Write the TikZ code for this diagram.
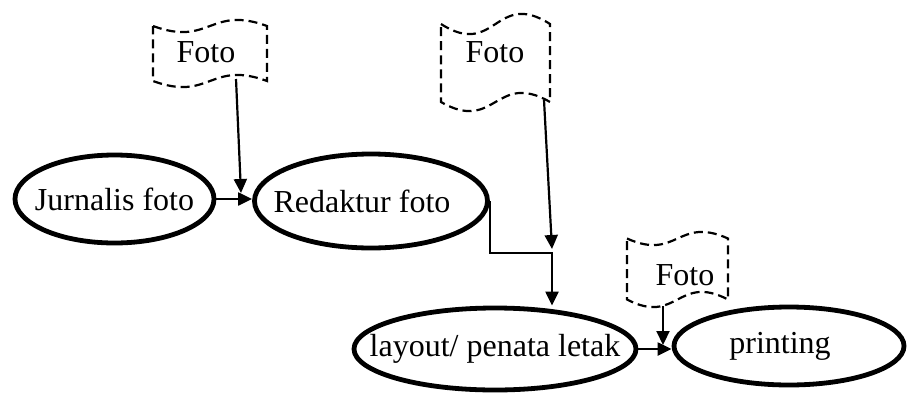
\documentclass[tikz,border=0pt]{standalone}
\usepackage{fontspec}
\setmainfont{Liberation Serif}
\usetikzlibrary{shapes.geometric,arrows.meta}
\newcommand{\flagshape}[6]{% L R topy topa boty bota
  \pgfmathsetmacro{\flagmid}{(#1+#2)/2}
  \draw[flagline] (#1,#3) .. controls (\flagmid,#3+3.5*#4) and (\flagmid,#3-3.5*#4) .. (#2,#3)
     -- (#2,#5) .. controls (\flagmid,#5-3.5*#6) and (\flagmid,#5+3.5*#6) .. (#1,#5) -- cycle;
}
\newcommand{\ctext}[1]{\makebox[0pt][c]{#1}}
\begin{document}
\begin{tikzpicture}[x=1pt,y=-1pt,
  stage/.style={ellipse, draw, line width=4.8pt, inner sep=0pt, font=\fontsize{32}{36}\selectfont},
  flagline/.style={line width=2.2pt, dash pattern=on 9pt off 5pt},
  flagtext/.style={font=\fontsize{32}{36}\selectfont, inner sep=0pt},
  conn/.style={line width=2.2pt},
  arr/.style={conn, -{Triangle[length=14pt,width=13pt]}}]
\useasboundingbox (0,0) rectangle (907,394);
% ellipses
\node[stage, minimum width=199pt, minimum height=88pt] (jur) at (114.5,199) {\ctext{Jurnalis foto}};
\node[stage, minimum width=233pt, minimum height=94pt] (red) at (371,201) {\ctext{Redaktur foto\hspace*{18pt}}};
\node[stage, minimum width=282pt, minimum height=82pt] (lay) at (495,349) {\ctext{layout/ penata letak}};
\node[stage, minimum width=230pt, minimum height=78pt] (prt) at (789,346) {\ctext{printing\hspace*{18pt}}};
% flags
\flagshape{153}{267}{26}{6}{81}{6}
\node[flagtext] (f1) at (206,52) {Foto};
\flagshape{441}{550}{24}{10}{102}{9}
\node[flagtext] (f2) at (495,52) {Foto};
\flagshape{627}{728}{238.5}{6.5}{299.5}{7.5}
\node[flagtext] (f3) at (685,275) {Foto};
% connector points
\coordinate (f1b) at (236,79);
\coordinate (f1e) at (241,193);
\coordinate (f2b) at (544,100);
\coordinate (f2e) at (552,249);
\coordinate (f3b) at (663,306);
\coordinate (f3e) at (663,345);
\coordinate (c1) at (552,253);
% connectors
\draw[arr] (jur.east) -- (jur.east -| red.west);
\draw[arr] (f1b) -- (f1e);
\draw[arr] (red.east) -- (red.east |- c1) -- (c1) -- (c1 |- lay.north);
\draw[arr] (f2b) -- (f2e);
\draw[arr] (lay.east) -- (lay.east -| prt.west);
\draw[arr] (f3b) -- (f3e);
\end{tikzpicture}
\end{document}
